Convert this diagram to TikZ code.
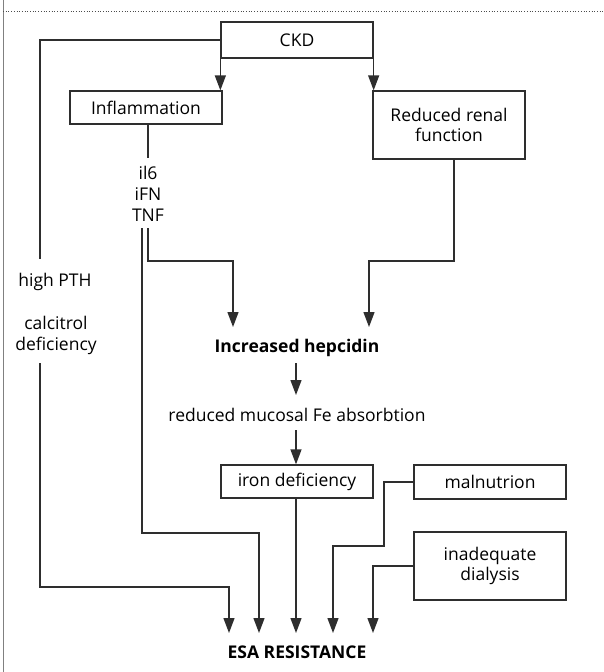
\documentclass[tikz,border=0pt]{standalone}
\usepackage{fontspec}
\setmainfont{Open Sans}
\usetikzlibrary{arrows.meta}
\definecolor{ln}{HTML}{2E2E2E}
\tikzset{
  box/.style={draw=ln, line width=1.3pt, inner sep=0pt, align=center, font=\fontsize{17.5}{20.5}\selectfont},
  lbl/.style={inner sep=0pt, align=center, font=\fontsize{17.5}{21}\selectfont},
  blbl/.style={inner sep=0pt, align=center, font=\fontsize{17.5}{20}\selectfont\bfseries},
  con/.style={draw=ln, line width=1.3pt},
  arr/.style={con, -{Triangle[length=15pt,width=11pt]}},
}
\begin{document}
\begin{tikzpicture}[x=1pt,y=-1pt]
\useasboundingbox (0,0) rectangle (604,672);
\fill[white] (0,0) rectangle (604,672);
% frame remnants
\draw[gray, line width=1pt] (3,0) -- (3,672);
\draw[black!70, line width=0.7pt, dotted] (3,11.7) -- (604,11.7);
% boxes
\node[box, minimum width=152, minimum height=36] (ckd) at (297,40) {CKD};
\node[box, minimum width=152, minimum height=33] (infl) at (146,107.5) {Inflammation};
\node[box, minimum width=152, minimum height=68] (renal) at (449,125) {Reduced renal\\function};
\node[box, minimum width=152, minimum height=33] (iron) at (297,481.5) {iron deficiency};
\node[box, minimum width=152, minimum height=34] (maln) at (490,482) {malnutrion};
\node[box, minimum width=152, minimum height=68] (inad) at (490,566) {inadequate\\dialysis};
% labels
\node[lbl] (cyt) at (148,194) {il6\\iFN\\TNF};
\node[lbl] (pth) at (55,282) {high PTH};
\node[lbl] (calc) at (56,335) {calcitrol\\deficiency};
\node[blbl] (hep) at (297,348) {Increased hepcidin};
\node[lbl] (muc) at (297,415) {reduced mucosal Fe absorbtion};
\node[blbl] (esa) at (297,652) {ESA RESISTANCE};
% coordinates
\coordinate (l1) at (40,259);
\coordinate (l2) at (40,363);
\coordinate (t1) at (142,228);
\coordinate (t2) at (148,228);
\coordinate (h1) at (233,327);
\coordinate (h2) at (369,327);
\coordinate (e1) at (229,633);
\coordinate (e2) at (259,633);
\coordinate (e3) at (296,633);
\coordinate (e4) at (333,633);
\coordinate (e5) at (373,633);
\coordinate (i1) at (148,158);
\coordinate (r1) at (454,261);
\coordinate (m1) at (296,363);
\coordinate (m2) at (296,395);
\coordinate (m3) at (296,430);
% connectors
\draw[arr] (ckd.south west) -- (ckd.south west |- infl.north);
\draw[arr] (ckd.south east) -- (ckd.south east |- renal.north);
\draw[con] (ckd.west) -| (l1);
\draw[arr] (l2) -- (40,587) -| (e1);
\draw[con] (i1 |- infl.south) -- (i1);
\draw[arr] (t1) -- (142,533) -| (e2);
\draw[arr] (t2) -- (148,261) -| (h1);
\draw[arr] (r1 |- renal.south) -- (r1) -| (h2);
\draw[arr] (m1) -- (m2);
\draw[arr] (m3) -- (iron.north -| m3);
\draw[arr] (iron.south -| e3) -- (e3);
\draw[arr] (maln.west) -- (384,482) -- (384,546) -| (e4);
\draw[arr] (inad.west) -| (e5);
\end{tikzpicture}
\end{document}
